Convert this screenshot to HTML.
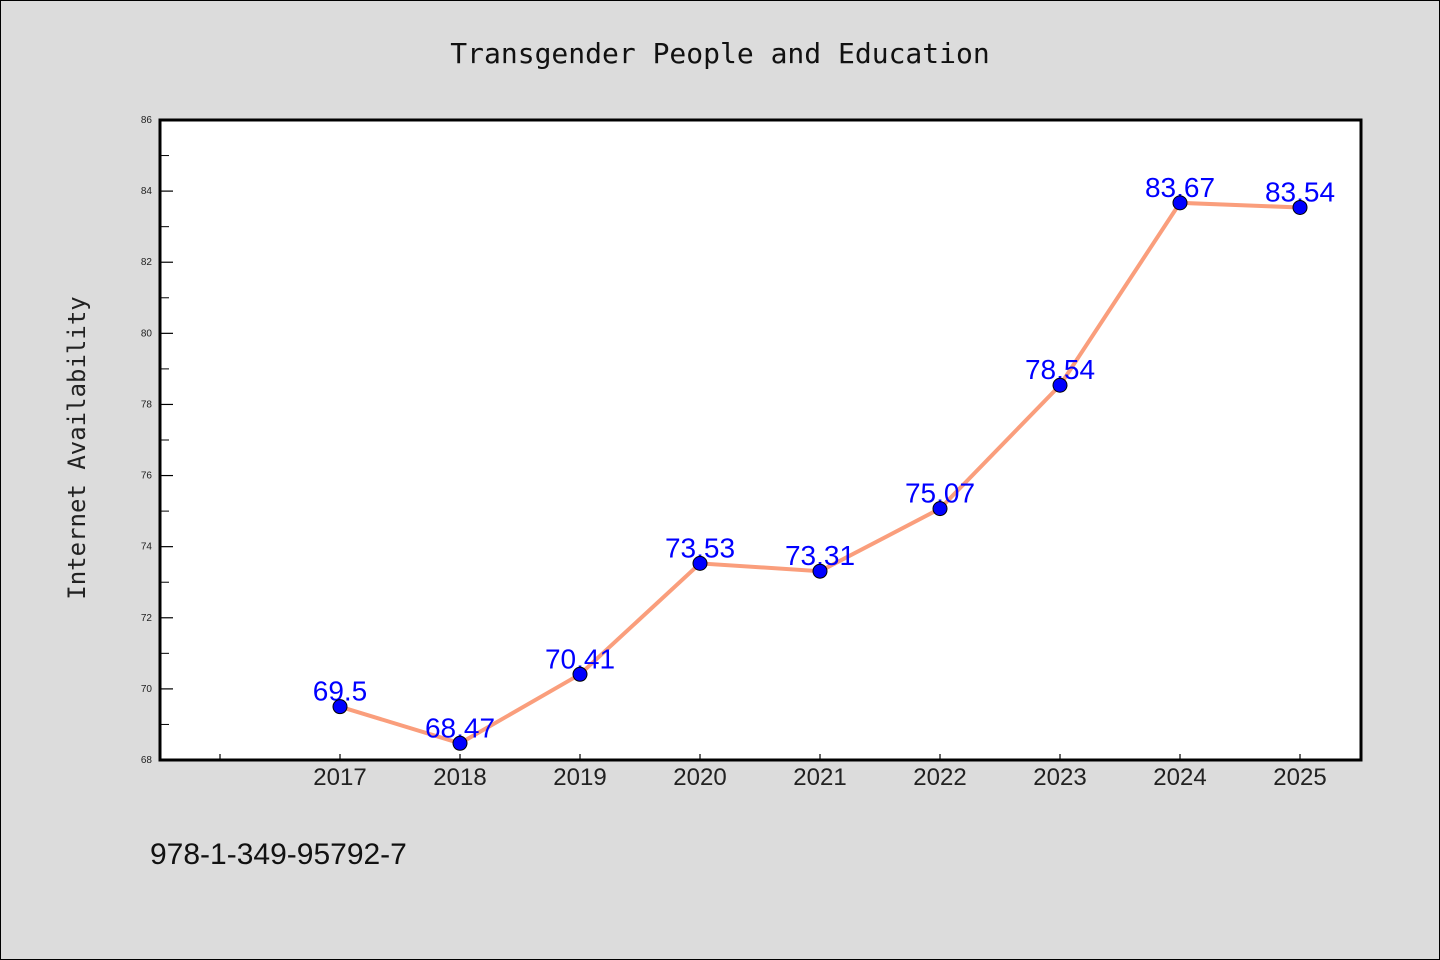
<!DOCTYPE html>
<html><head><meta charset="utf-8"><style>
body{margin:0;background:#dcdcdc;}
svg{display:block;font-family:"Liberation Sans","DejaVu Sans",sans-serif;}
</style></head><body>
<svg width="1440" height="960">
<rect x="0.5" y="0.5" width="1439" height="959" fill="#dcdcdc" stroke="#000"/>
<text x="720" y="63" text-anchor="middle" font-size="28" font-family="DejaVu Sans Mono, Liberation Mono, monospace" fill="#111">Transgender People and Education</text>
<text transform="translate(85,448) rotate(-90)" text-anchor="middle" font-size="24" font-family="DejaVu Sans Mono, Liberation Mono, monospace" fill="#222">Internet Availability</text>
<text x="150" y="864" font-size="30" fill="#111">978-1-349-95792-7</text>
<rect x="160" y="120" width="1201" height="640" fill="#fff" stroke="#000" stroke-width="3"/>
<g id="axes"></g>
<g id="marks"></g>
</svg>
<script>
const years=["2017","2018","2019","2020","2021","2022","2023","2024","2025"];
const values=[69.5,68.47,70.41,73.53,73.31,75.07,78.54,83.67,83.54];
const labels=["69.5","68.47","70.41","73.53","73.31","75.07","78.54","83.67","83.54"];
const yTicks=[68,70,72,74,76,78,80,82,84,86];
const NS="http://www.w3.org/2000/svg";
const y=v=>760-(v-68)*(640/18);
const x=i=>340+i*120;
function mk(t,a,p){const e=document.createElementNS(NS,t);for(const k in a)e.setAttribute(k,a[k]);p.appendChild(e);return e;}
const ax=document.getElementById('axes'),mg=document.getElementById('marks');
yTicks.forEach(v=>{
 const l=mk('line',{x1:160,x2:173,y1:y(v),y2:y(v),stroke:'#000','stroke-width':1.2},ax);
 
 
 const t=mk('text',{x:152,y:y(v)+3,'text-anchor':'end','font-size':10,fill:'#222'},ax);
 t.textContent=v;
 
 
 if(v<86){const m=mk('line',{x1:160,x2:169,y1:y(v+1),y2:y(v+1),stroke:'#000','stroke-width':1},ax);
 
 }
});
[-1].concat(years.map((_,i)=>i)).forEach(i=>{
 const l=mk('line',{x1:x(i),x2:x(i),y1:760,y2:754,stroke:'#000','stroke-width':1.2},ax);
 
 
});
years.forEach((yr,i)=>{
 const t=mk('text',{x:x(i),y:785,'text-anchor':'middle','font-size':24,fill:'#222'},ax);
 t.textContent=yr;
 
 
});
const p=mk('polyline',{points:values.map((v,i)=>x(i)+','+y(v)).join(' '),fill:'none',stroke:'#fa9e7c','stroke-width':4},mg);


values.forEach((v,i)=>{
 const t=mk('text',{x:x(i),y:y(v)-6,'text-anchor':'middle','font-size':28,fill:'#0000ff'},mg);
 t.textContent=labels[i];
 
 
});
values.forEach((v,i)=>{
 const c=mk('circle',{cx:x(i),cy:y(v),r:7,fill:'#0000ff',stroke:'#000','stroke-width':1},mg);
 
 
});
</script>
</body></html>
